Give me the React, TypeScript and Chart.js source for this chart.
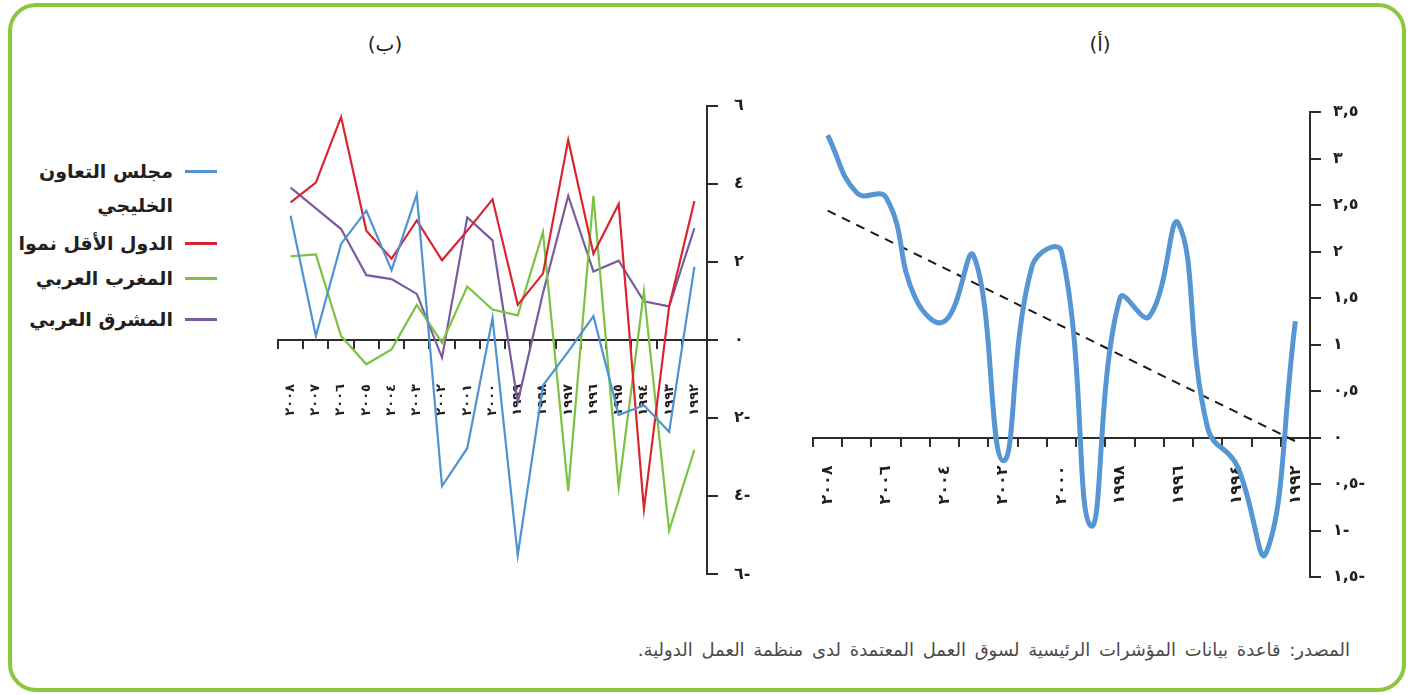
import React, { useEffect, useRef } from 'react';
import { Chart, registerables } from 'chart.js';

Chart.register(...registerables);

// Years (2008 ... 1992), Arabic-Indic digits
const yearLabels = ['٢٠٠٨', '٢٠٠٧', '٢٠٠٦', '٢٠٠٥', '٢٠٠٤', '٢٠٠٣', '٢٠٠٢', '٢٠٠١', '٢٠٠٠', '١٩٩٩', '١٩٩٨', '١٩٩٧', '١٩٩٦', '١٩٩٥', '١٩٩٤', '١٩٩٣', '١٩٩٢'];

// Panel (ب)
const gccValues = [3.18, 0.1, 2.46, 3.31, 1.79, 3.73, -3.74, -2.77, 0.56, -5.51, -1.16, -0.3, 0.61, -1.92, -1.67, -2.35, 1.87];
const ldcValues = [3.52, 4.03, 5.71, 2.8, 2.08, 3.06, 2.04, 2.8, 3.6, 0.9, 1.7, 5.12, 2.21, 3.48, -4.33, 0.86, 3.56];
const maghrebValues = [2.14, 2.19, 0.1, -0.62, -0.24, 0.9, -0.07, 1.37, 0.78, 0.63, 2.76, -3.87, 3.69, -3.78, 1.24, -4.88, -2.81];
const mashreqValues = [3.9, 3.37, 2.84, 1.66, 1.56, 1.18, -0.45, 3.14, 2.55, -1.59, 1.2, 3.69, 1.75, 2.03, 0.99, 0.86, 2.86];
const bTickValues = [-6, -4, -2, 0, 2, 4, 6];
const bTickLabels = ['٦-', '٤-', '٢-', '٠', '٢', '٤', '٦'];

// Panel (أ)
const arabValues = [3.25, 2.63, 2.58, 1.5, 1.25, 1.95, -0.25, 1.85, 2.0, -0.95, 1.5, 1.3, 2.3, 0.1, -0.3, -1.24, 1.25];
const trendValues = [2.44, null, null, null, null, null, null, null, null, null, null, null, null, null, null, null, -0.04];
const aTickValues = [-1.5, -1, -0.5, 0, 0.5, 1, 1.5, 2, 2.5, 3, 3.5];
const aTickLabels = ['١,٥-', '١-', '٠,٥-', '٠', '٠,٥', '١', '١,٥', '٢', '٢,٥', '٣', '٣,٥'];

const legendNames = ['مجلس التعاون الخليجي', 'الدول الأقل نموا', 'المغرب العربي', 'المشرق العربي'];
const seriesColors = ['#4e93d2', '#d9252f', '#7cc243', '#7a5c9d'];

const FONT = "'DejaVu Sans', sans-serif";
const AXIS = '#2b2b2b';

function ChartCanvas({ config, style, width, height }: any) {
  const ref = useRef<HTMLCanvasElement | null>(null);
  useEffect(() => {
    const chart = new Chart(ref.current as HTMLCanvasElement, config);
    return () => chart.destroy();
  }, []);
  return <canvas ref={ref} width={width} height={height} style={{ position: 'absolute', width, height, ...style }} />;
}

function tickMap(values: number[], labels: string[]) {
  return (v: any) => {
    const i = values.findIndex((t) => Math.abs(t - Number(v)) < 1e-6);
    return i >= 0 ? labels[i] : '';
  };
}

const configB: any = {
  type: 'line',
  data: {
    labels: yearLabels,
    datasets: [
      { data: gccValues, borderColor: seriesColors[0] },
      { data: ldcValues, borderColor: seriesColors[1] },
      { data: maghrebValues, borderColor: seriesColors[2] },
      { data: mashreqValues, borderColor: seriesColors[3] },
    ].map((d) => ({ ...d, borderWidth: 2.2, pointRadius: 0, tension: 0, fill: false })),
  },
  options: {
    responsive: false,
    animation: false,
    devicePixelRatio: 1,
    layout: { padding: { left: 38, right: 13, top: 23, bottom: 25 } },
    plugins: { legend: { display: false }, tooltip: { enabled: false } },
    scales: {
      x: {
        type: 'category',
        offset: true,
        position: { y: 0 },
        grid: { offset: true, drawOnChartArea: false, drawTicks: true, tickLength: 8, color: AXIS, lineWidth: 2 },
        border: { display: true, color: AXIS, width: 2 },
        ticks: {
          autoSkip: false,
          minRotation: 90,
          maxRotation: 90,
          padding: 36,
          color: '#231f20',
          font: { family: FONT, size: 13, weight: 'bold' },
        },
      },
      y: {
        position: 'right',
        min: -6,
        max: 6,
        afterBuildTicks: (s: any) => { s.ticks = bTickValues.map((v) => ({ value: v })); },
        afterFit: (s: any) => { s.width = 60; },
        grid: { drawOnChartArea: false, drawTicks: true, tickLength: 11, color: AXIS, lineWidth: 2 },
        border: { display: true, color: AXIS, width: 2 },
        ticks: {
          padding: 16,
          color: '#231f20',
          callback: tickMap(bTickValues, bTickLabels),
          font: { family: FONT, size: 16, weight: 'bold' },
        },
      },
    },
  },
};

const configA: any = {
  type: 'line',
  data: {
    labels: yearLabels,
    datasets: [
      { data: arabValues, borderColor: '#5596d3', borderWidth: 5, pointRadius: 0, tension: 0.45, fill: false },
      { data: trendValues, borderColor: '#1a1a1a', borderWidth: 2, borderDash: [9, 7], pointRadius: 0, spanGaps: true, tension: 0, fill: false },
    ],
  },
  options: {
    responsive: false,
    animation: false,
    devicePixelRatio: 1,
    layout: { padding: { left: 23, right: 20, top: 32, bottom: 23 } },
    plugins: { legend: { display: false }, tooltip: { enabled: false } },
    scales: {
      x: {
        type: 'category',
        offset: true,
        position: { y: 0 },
        grid: { offset: true, drawOnChartArea: false, drawTicks: true, tickLength: 8, color: AXIS, lineWidth: 2 },
        border: { display: true, color: AXIS, width: 2 },
        ticks: {
          autoSkip: false,
          minRotation: 90,
          maxRotation: 90,
          padding: 20,
          color: '#231f20',
          callback: (_v: any, i: number) => (i % 2 === 0 ? yearLabels[i] : ''),
          font: { family: FONT, size: 16, weight: 'bold' },
        },
      },
      y: {
        position: 'right',
        min: -1.5,
        max: 3.5,
        afterBuildTicks: (s: any) => { s.ticks = aTickValues.map((v) => ({ value: v })); },
        afterFit: (s: any) => { s.width = 70; },
        grid: { drawOnChartArea: false, drawTicks: true, tickLength: 11, color: AXIS, lineWidth: 2 },
        border: { display: true, color: AXIS, width: 2 },
        ticks: {
          padding: 12,
          color: '#231f20',
          callback: tickMap(aTickValues, aTickLabels),
          font: { family: FONT, size: 16, weight: 'bold' },
        },
      },
    },
  },
};

const legendRows = [
  { lines: ['مجلس التعاون', 'الخليجي'], y: 171, color: seriesColors[0] },
  { lines: [legendNames[1]], y: 243, color: seriesColors[1] },
  { lines: [legendNames[2]], y: 278, color: seriesColors[2] },
  { lines: [legendNames[3]], y: 319, color: seriesColors[3] },
];

export default function App() {
  return (
    <div style={{ position: 'absolute', left: 0, top: 0, width: 1413, height: 695, background: '#fff', overflow: 'hidden', fontFamily: FONT }}>
      <div style={{ position: 'absolute', left: 8, top: 3, width: 1398, height: 689, border: '4px solid #8dc63f', borderRadius: 28, boxSizing: 'border-box' }} />
      <div dir="rtl" style={{ position: 'absolute', left: 345, top: 32, width: 80, textAlign: 'center', fontSize: 20, color: '#231f20' }}>(ب)</div>
      <div dir="rtl" style={{ position: 'absolute', left: 1060, top: 32, width: 80, textAlign: 'center', fontSize: 20, color: '#231f20' }}>(أ)</div>

      <ChartCanvas config={configB} width={540} height={520} style={{ left: 240, top: 80 }} />
      <ChartCanvas config={configA} width={610} height={520} style={{ left: 790, top: 80 }} />

      {legendRows.map((r, i) => (
        <React.Fragment key={i}>
          <div style={{ position: 'absolute', left: 185, top: r.y - 1.5, width: 32, height: 3, background: r.color }} />
          {r.lines.map((t, j) => (
            <div key={j} dir="rtl" style={{ position: 'absolute', right: 1413 - 173, top: r.y - 14 + j * 34, whiteSpace: 'nowrap', fontSize: 19, fontWeight: 'bold', color: '#231f20', lineHeight: '28px' }}>{t}</div>
          ))}
        </React.Fragment>
      ))}

      <div dir="rtl" style={{ position: 'absolute', right: 1413 - 1350, top: 638, whiteSpace: 'nowrap', fontSize: 18, wordSpacing: 3, color: '#4a4a4a', lineHeight: '24px' }}>
        المصدر: قاعدة بيانات المؤشرات الرئيسية لسوق العمل المعتمدة لدى منظمة العمل الدولية.
      </div>
    </div>
  );
}
